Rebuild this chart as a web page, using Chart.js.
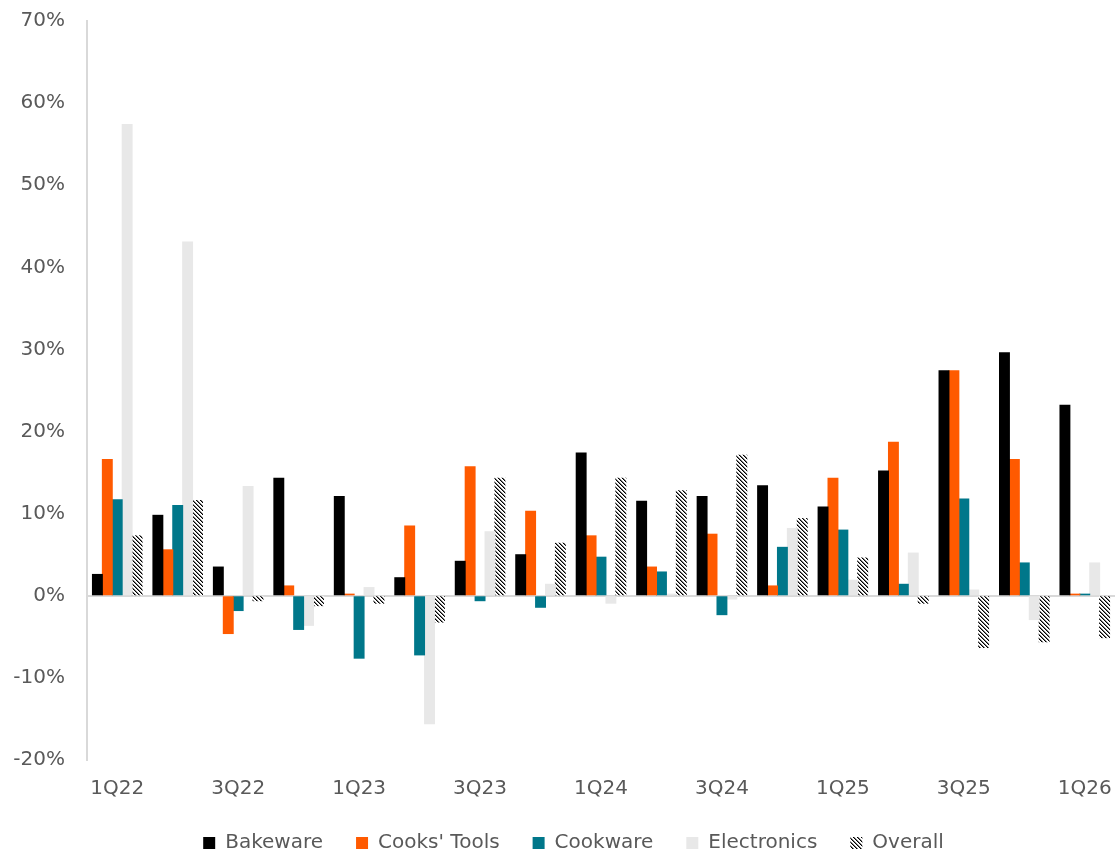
<!DOCTYPE html>
<html>
<head>
<meta charset="utf-8">
<script src="https://cdn.jsdelivr.net/npm/chart.js@4"></script>
<style>
  html, body { margin: 0; padding: 0; background: #ffffff; }
  #wrap { width: 1117px; height: 854px; }
</style>
</head>
<body>
<div id="wrap"><canvas id="chart" width="1117" height="854"></canvas></div>
<script>
// Quarterly growth by category, in percent
const quarters = ['1Q22','2Q22','3Q22','4Q22','1Q23','2Q23','3Q23','4Q23','1Q24','2Q24','3Q24','4Q24','1Q25','2Q25','3Q25','4Q25','1Q26'];
const bakeware    = [2.6, 9.8, 3.5, 14.3, 12.1, 2.2, 4.2, 5.0, 17.4, 11.5, 12.1, 13.4, 10.8, 15.2, 27.4, 29.6, 23.2];
const cooksTools  = [16.6, 5.6, -4.6, 1.2, 0.2, 8.5, 15.7, 10.3, 7.3, 3.5, 7.5, 1.2, 14.3, 18.7, 27.4, 16.6, 0.2];
const cookware    = [11.7, 11.0, -1.8, -4.1, -7.6, -7.2, -0.6, -1.4, 4.7, 2.9, -2.3, 5.9, 8.0, 1.4, 11.8, 4.0, 0.2];
const electronics = [57.4, 43.1, 13.3, -3.6, 1.0, -15.6, 7.8, 1.4, -0.9, 0.2, -0.4, 8.2, 1.9, 5.2, 0.7, -2.9, 4.0];
const overall     = [7.3, 11.6, -0.6, -1.2, -0.9, -3.2, 14.3, 6.4, 14.3, 12.8, 17.1, 9.4, 4.6, -0.9, -6.3, -5.6, -5.1];
const yTicks = { min: -20, max: 70, step: 10 };

// Downward-diagonal hatch used for the "Overall" series
function makeHatch() {
  const tile = document.createElement('canvas');
  tile.width = 4; tile.height = 4;
  const c = tile.getContext('2d');
  c.fillStyle = '#ffffff';
  c.fillRect(0, 0, 4, 4);
  for (let r = 0; r < 4; r++) {
    c.fillStyle = '#000000';
    c.fillRect(r, r, 1, 1);
    c.fillStyle = '#7a7a7a';
    c.fillRect((r + 1) % 4, r, 1, 1);
  }
  return document.getElementById('chart').getContext('2d').createPattern(tile, 'repeat');
}
const hatch = makeHatch();

const textColor = '#595959';
const axisColor = '#d9d9d9';
const font = { family: '"DejaVu Sans", sans-serif', size: 20 };

Chart.defaults.font = font;
Chart.defaults.color = textColor;

// Nudge the legend row to the right of the canvas centre
const legendShift = {
  id: 'legendShift',
  afterLayout(chart) {
    const lg = chart.legend;
    if (lg) { lg.left += 16; lg.right += 16; }
  }
};

new Chart(document.getElementById('chart'), {
  type: 'bar',
  data: {
    labels: quarters,
    datasets: [
      { label: 'Bakeware', data: bakeware, backgroundColor: '#000000' },
      { label: "Cooks' Tools", data: cooksTools, backgroundColor: '#ff5a00' },
      { label: 'Cookware', data: cookware, backgroundColor: '#00778a' },
      { label: 'Electronics', data: electronics, backgroundColor: '#e8e8e8' },
      { label: 'Overall', data: overall, backgroundColor: hatch }
    ]
  },
  plugins: [legendShift],
  options: {
    responsive: false,
    animation: false,
    datasets: { bar: { categoryPercentage: 0.82, barPercentage: 1.0, borderWidth: 0, inflateAmount: 0.5 } },
    layout: { padding: { top: 21, right: 2, left: 0, bottom: -9 } },
    plugins: {
      tooltip: { enabled: false },
      legend: {
        position: 'bottom',
        labels: {
          boxWidth: 12,
          boxHeight: 12,
          padding: 33,
          font: font,
          color: textColor
        }
      }
    },
    scales: {
      x: {
        grid: { display: false, drawTicks: false },
        border: { display: false },
        afterFit: (s) => { s.height = 40; s.paddingLeft = 0; s.paddingRight = 0; },
        ticks: {
          autoSkip: false,
          maxRotation: 0,
          padding: 17,
          font: font,
          color: textColor,
          callback: function (v, i) { return i % 2 === 0 ? this.getLabelForValue(v) : ''; }
        }
      },
      y: {
        min: yTicks.min,
        max: yTicks.max,
        z: 1,
        afterFit: (s) => { s.width = 87; s.paddingTop = 0; s.paddingBottom = 0; },
        grid: {
          drawTicks: false,
          lineWidth: 2,
          color: (ctx) => (ctx.tick && ctx.tick.value === 0 ? axisColor : 'rgba(0,0,0,0)')
        },
        border: { display: true, color: axisColor, width: 2 },
        ticks: {
          stepSize: yTicks.step,
          padding: 22,
          font: font,
          color: textColor,
          callback: (v) => v + '%'
        }
      }
    }
  }
});
</script>
</body>
</html>
